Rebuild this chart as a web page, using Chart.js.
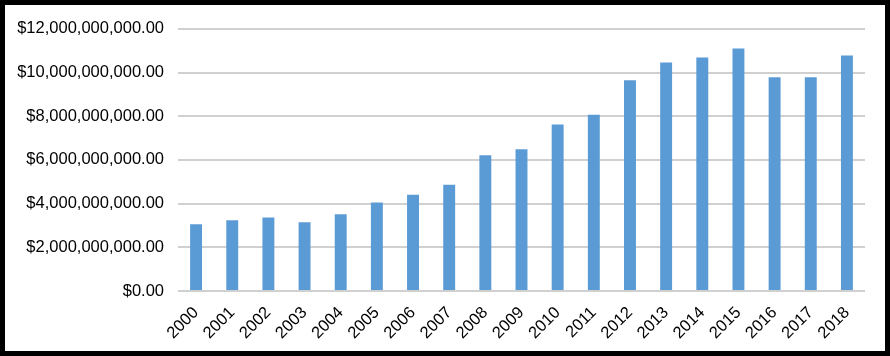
<!DOCTYPE html>
<html>
<head>
<meta charset="utf-8">
<script src="https://cdn.jsdelivr.net/npm/chart.js@4/dist/chart.umd.min.js"></script>
<style>
  html, body { margin: 0; padding: 0; background: #fff; }
  .frame {
    width: 890px;
    height: 356px;
    box-sizing: border-box;
    border: 5px solid #000;
    background: #fff;
  }
  .frame canvas { display: block; }
</style>
</head>
<body>
<div class="frame">
  <canvas id="chart" width="880" height="346"></canvas>
</div>
<script>
const years = ["2000", "2001", "2002", "2003", "2004", "2005", "2006", "2007", "2008", "2009",
  "2010", "2011", "2012", "2013", "2014", "2015", "2016", "2017", "2018"];

// dollars
const amounts = [3.06e9, 3.24e9, 3.37e9, 3.15e9, 3.51e9, 4.05e9, 4.41e9, 4.86e9, 6.21e9, 6.49e9,
  7.62e9, 8.07e9, 9.65e9, 10.46e9, 10.69e9, 11.10e9, 9.79e9, 9.79e9, 10.78e9];

const yMin = 0;
const yMax = 12e9;
const yStep = 2e9;

const money = new Intl.NumberFormat("en-US", { minimumFractionDigits: 2, maximumFractionDigits: 2 });

const font = { family: "'Liberation Sans', Arial, sans-serif", size: 16.5 };

new Chart(document.getElementById("chart").getContext("2d"), {
  type: "bar",
  data: {
    labels: years,
    datasets: [
      {
        data: amounts,
        backgroundColor: "#5B9BD5",
        barPercentage: 1,
        categoryPercentage: 0.33,
      },
    ],
  },
  options: {
    responsive: false,
    animation: false,
    layout: { padding: { top: 20, right: 20, left: 0, bottom: 0 } },
    plugins: {
      legend: { display: false },
      tooltip: { enabled: false },
    },
    scales: {
      x: {
        grid: { display: false, drawTicks: false },
        border: { display: false },
        ticks: {
          color: "#000",
          font: font,
          minRotation: 45,
          maxRotation: 45,
          padding: 12,
        },
        afterFit: (scale) => {
          scale.height = 60;
        },
      },
      y: {
        min: yMin,
        max: yMax,
        grid: { color: "#d0d0d0", lineWidth: 2, drawTicks: false },
        border: { display: false },
        ticks: {
          stepSize: yStep,
          color: "#000",
          font: font,
          padding: 14,
          callback: (v) => "$" + money.format(v),
        },
        afterFit: (scale) => {
          scale.width = 173;
        },
      },
    },
  },
});
</script>
</body>
</html>
